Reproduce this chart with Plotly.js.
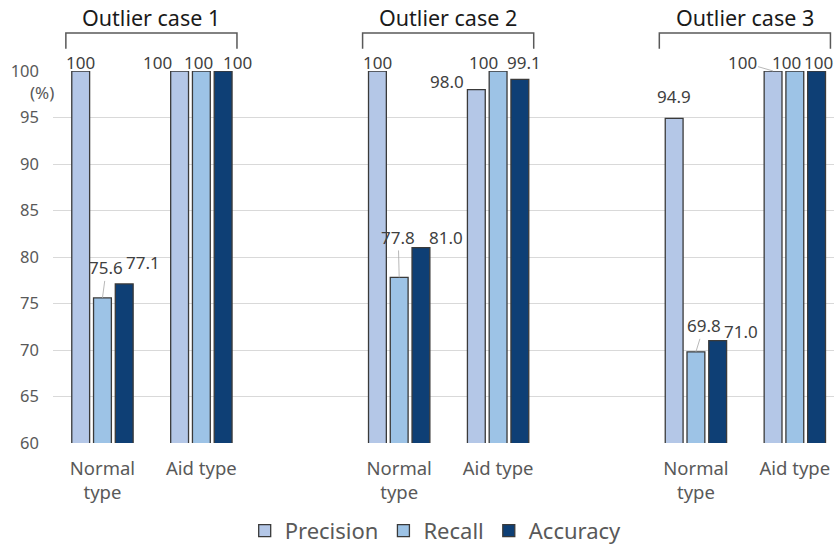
<!DOCTYPE html>
<html>
<head>
<meta charset="utf-8">
<script src="https://cdn.plot.ly/plotly-3.0.1.min.js"></script>
<style>html,body{margin:0;padding:0;background:#fff;}#chart{width:834px;height:553px;}</style>
</head>
<body>
<div id="chart"></div>
<script>
// ---- data ----
const cases = ['Outlier case 1', 'Outlier case 2', 'Outlier case 3'];
const types = ['Normal<br>type', 'Aid type'];
const seriesNames = ['Precision', 'Recall', 'Accuracy'];
// order: case1 Normal, case1 Aid, case2 Normal, case2 Aid, case3 Normal, case3 Aid
const precision = [100, 100, 100, 98.0, 94.9, 100];
const recall    = [75.6, 100, 77.8, 100, 69.8, 100];
const accuracy  = [77.1, 100, 81.0, 99.1, 71.0, 100];

// ---- styles ----
const colors = ['#B4C7E7', '#9DC3E6', '#0E3F75'];
const FONT = 'Noto Sans, Open Sans, sans-serif';
const bargap = 0.34, bargroupgap = 0.18;

// label offsets (pixels, dx, dy(up negative), leader line flag) per bar
const labelOffsets = [
  [[0,-9,0],[4,-30,1],[19,-21,0]],
  [[-22,-9,0],[-3,-9,0],[14,-9,0]],
  [[0,-9,0],[-1,-40,1],[25,-10,0]],
  [[-29,-8,0],[-15,-9,0],[4,-17,0]],
  [[0,-22,0],[8,-26,1],[23,-9,0]],
  [[-31,-9,1],[-8,-9,0],[2,-9,0]]
];

const series = [precision, recall, accuracy];
const xPos = [], tickText = [];
cases.forEach((c, g) => types.forEach((t, j) => { xPos.push(3 * g + j); tickText.push(t); }));

const traces = series.map((vals, k) => ({
  type: 'bar', name: seriesNames[k], x: xPos, y: vals,
  marker: { color: colors[k], line: { color: '#3A3A3A', width: 1.3 } },
  hoverinfo: 'x+y'
}));

const fmt = v => (v === 100 ? '100' : v.toFixed(1));
const slot = (1 - bargap) / 3;
const annotations = [];
series.forEach((vals, k) => vals.forEach((v, i) => {
  const [dx, dy, leader] = labelOffsets[i][k];
  const base = {
    x: xPos[i] + (k - 1) * slot, y: v, xref: 'x', yref: 'y',
    text: fmt(v), font: { family: FONT, size: 17, color: '#404040' }
  };
  if (leader) {
    Object.assign(base, { showarrow: true, ax: dx, ay: dy, arrowhead: 0, arrowwidth: 0.8, arrowcolor: '#A6A6A6', standoff: 0 });
  } else {
    Object.assign(base, { showarrow: false, xshift: dx, yshift: -dy, xanchor: 'center', yanchor: 'middle' });
  }
  annotations.push(base);
}));

// case titles and brackets
const shapes = [];
cases.forEach((c, g) => {
  const x0 = 3 * g - 0.37, x1 = 3 * g + 1.36;
  annotations.push({ x: (x0 + x1) / 2, y: 1.145, xref: 'x', yref: 'paper', text: c, showarrow: false,
    font: { family: FONT, size: 21.5, color: '#1a1a1a' }, xanchor: 'center', yanchor: 'middle' });
  shapes.push({ type: 'path', xref: 'x', yref: 'paper',
    path: `M${x0},1.06 L${x0},1.102 L${x1},1.102 L${x1},1.06`,
    line: { color: '#595959', width: 1.5 } });
});
annotations.push({ x: 0.0, y: 97.7, xref: 'paper', yref: 'y', text: '(%)', showarrow: false, xanchor: 'right', yanchor: 'middle', xshift: 3,
  font: { family: FONT, size: 17, color: '#595959' } });

const layout = {
  width: 834, height: 553,
  margin: { l: 53, r: 0, t: 71, b: 110, autoexpand: false },
  paper_bgcolor: '#fff', plot_bgcolor: '#fff',
  font: { family: FONT, color: '#595959' },
  barmode: 'group', bargap: bargap, bargroupgap: bargroupgap,
  xaxis: {
    range: [-0.5, 7.396], tickvals: xPos, ticktext: tickText,
    showgrid: false, zeroline: false, showline: false, ticks: '', ticklabelstandoff: 12,
    tickfont: { family: FONT, size: 18.5, color: '#595959' }, fixedrange: true
  },
  yaxis: {
    range: [60, 100], dtick: 5, tick0: 60, showgrid: true, gridcolor: '#D9D9D9', gridwidth: 1,
    zeroline: false, showline: false, ticks: '', ticklabelstandoff: 13,
    tickfont: { family: FONT, size: 16.5, color: '#595959' }, fixedrange: true
  },
  legend: { orientation: 'h', x: 0.49, xanchor: 'center', xref: 'paper', y: 0.04, yanchor: 'middle', yref: 'container',
    font: { family: FONT, size: 22, color: '#595959' }, itemclick: false },
  annotations: annotations, shapes: shapes, showlegend: true
};

Plotly.newPlot('chart', traces, layout, { displayModeBar: false, staticPlot: true });
</script>
</body>
</html>
